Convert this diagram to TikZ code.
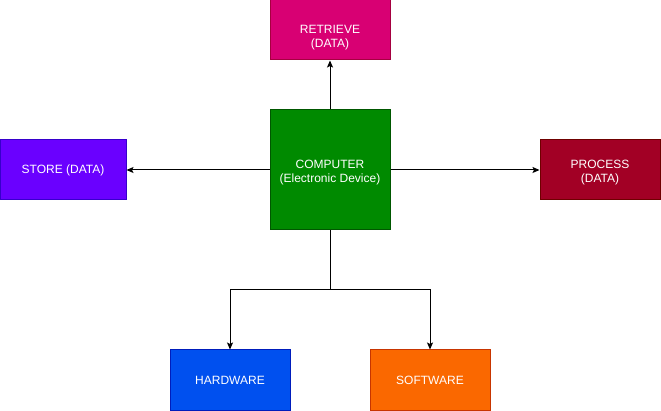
\documentclass[tikz,border=0pt]{standalone}
\usepackage{fontspec}
\setmainfont{Liberation Sans}
\usepackage{xcolor}
\usetikzlibrary{arrows.meta, positioning}

\definecolor{retrievefill}{HTML}{D80073}
\definecolor{retrieveline}{HTML}{A50040}
\definecolor{compfill}{HTML}{008A00}
\definecolor{compline}{HTML}{005700}
\definecolor{storefill}{HTML}{6A00FF}
\definecolor{storeline}{HTML}{3700CC}
\definecolor{procfill}{HTML}{A20025}
\definecolor{procline}{HTML}{6F0000}
\definecolor{hardfill}{HTML}{0050EF}
\definecolor{hardline}{HTML}{001DBC}
\definecolor{softfill}{HTML}{FA6800}
\definecolor{softline}{HTML}{C73500}

\begin{document}
\begin{tikzpicture}[x=1pt, y=-1pt,
  box/.style={rectangle, line width=1pt, minimum width=120pt, minimum height=60pt,
              text=white, align=center, inner sep=2pt,
              font=\fontsize{12}{14}\selectfont},
  boxtext/.style={text=white, align=center, inner sep=0pt,
              font=\fontsize{12}{14}\selectfont},
  link/.style={line width=1pt, -{Stealth[length=7pt, width=6pt, inset=1.5pt]}}]
  \useasboundingbox (0,0) rectangle (661,411);

  % central box and the four data operations
  \node[box, fill=compfill, draw=compline, minimum height=120pt,
        label={[boxtext, yshift=-2.5pt]center:COMPUTER\\(Electronic Device)}] (computer) at (330,170) {};
  \node[box, fill=retrievefill, draw=retrieveline,
        label={[boxtext, yshift=-8pt]center:RETRIEVE\\(DATA)}] (retrieve) at (330,30) {};
  \node[box, fill=storefill, draw=storeline, minimum width=126pt] (store) at (63,170) {STORE (DATA)};
  \node[box, fill=procfill, draw=procline,
        label={[boxtext, yshift=-2.5pt]center:PROCESS\\(DATA)}] (process) at (600,170) {};

  % parts of a computer
  \node[box, fill=hardfill, draw=hardline] (hardware) at (230,380) {HARDWARE};
  \node[box, fill=softfill, draw=softline] (software) at (430,380) {SOFTWARE};

  \coordinate (split) at (330,290);

  \draw[link] (computer) -- (retrieve);
  \draw[link] (computer) -- (store);
  \draw[link] (computer) -- (process);
  \draw[line width=1pt] (computer) -- (split);
  \draw[link] (split) -| (hardware);
  \draw[link] (split) -| (software);
\end{tikzpicture}
\end{document}
